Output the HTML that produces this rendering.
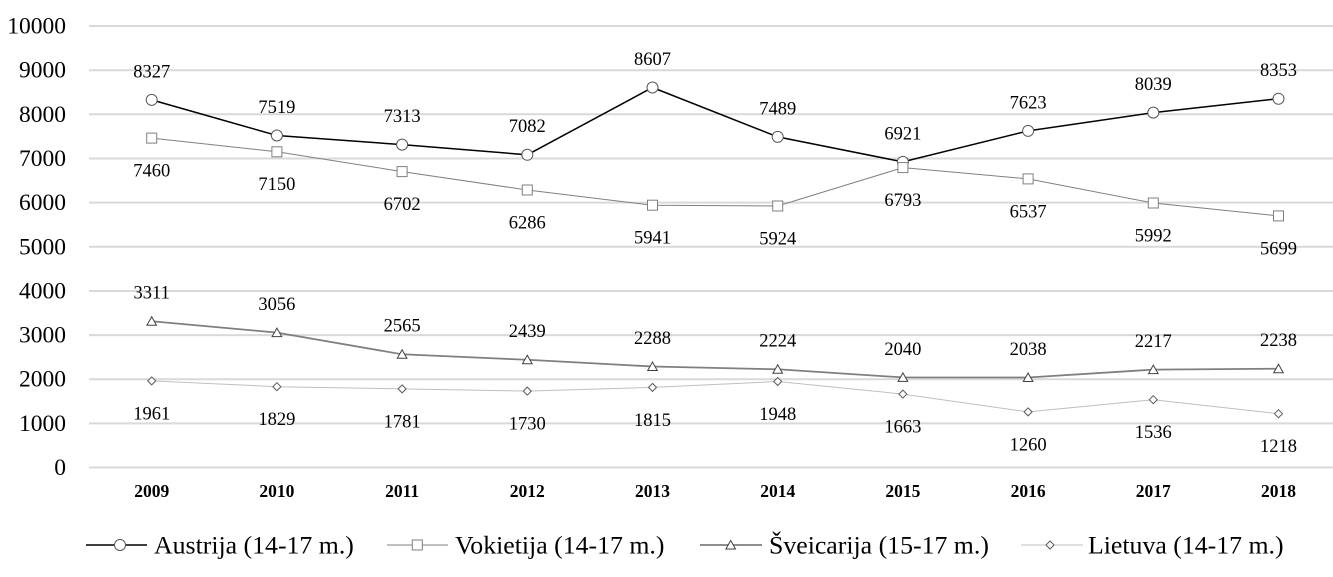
<!DOCTYPE html>
<html><head><meta charset="utf-8"><style>
html,body{margin:0;padding:0;background:#fff;}
svg{display:block;}
text{font-family:"Liberation Serif",serif;fill:#000;}
</style></head><body>
<svg width="1333" height="577" viewBox="0 0 1333 577" xmlns="http://www.w3.org/2000/svg">
<g stroke="#d9d9d9" stroke-width="2">
<line x1="89" y1="26" x2="1333" y2="26"/>
<line x1="89" y1="70.2" x2="1333" y2="70.2"/>
<line x1="89" y1="114.3" x2="1333" y2="114.3"/>
<line x1="89" y1="158.5" x2="1333" y2="158.5"/>
<line x1="89" y1="202.6" x2="1333" y2="202.6"/>
<line x1="89" y1="246.8" x2="1333" y2="246.8"/>
<line x1="89" y1="291" x2="1333" y2="291"/>
<line x1="89" y1="335.1" x2="1333" y2="335.1"/>
<line x1="89" y1="379.2" x2="1333" y2="379.2"/>
<line x1="89" y1="423.4" x2="1333" y2="423.4"/>
<line x1="89" y1="467.5" x2="1333" y2="467.5"/>
</g>
<g font-size="23.5" text-anchor="end">
<text x="66" y="33.5">10000</text>
<text x="66" y="77.7">9000</text>
<text x="66" y="121.8">8000</text>
<text x="66" y="166">7000</text>
<text x="66" y="210.1">6000</text>
<text x="66" y="254.3">5000</text>
<text x="66" y="298.5">4000</text>
<text x="66" y="342.6">3000</text>
<text x="66" y="386.7">2000</text>
<text x="66" y="430.9">1000</text>
<text x="66" y="475">0</text>
</g>
<g font-size="17.5" font-weight="bold" text-anchor="middle">
<text x="151.7" y="497">2009</text>
<text x="276.9" y="497">2010</text>
<text x="402.1" y="497">2011</text>
<text x="527.3" y="497">2012</text>
<text x="652.5" y="497">2013</text>
<text x="777.7" y="497">2014</text>
<text x="902.9" y="497">2015</text>
<text x="1028.1" y="497">2016</text>
<text x="1153.3" y="497">2017</text>
<text x="1278.5" y="497">2018</text>
</g>
<!-- Austrija -->
<polyline fill="none" stroke="#000" stroke-width="1.5" points="151.7,99.9 276.9,135.5 402.1,144.6 527.3,154.8 652.5,87.5 777.7,136.9 902.9,161.9 1028.1,130.9 1153.3,112.6 1278.5,98.7"/>
<g fill="#fff" stroke="#595959" stroke-width="1">
<circle cx="151.7" cy="99.9" r="5.5"/><circle cx="276.9" cy="135.5" r="5.5"/><circle cx="402.1" cy="144.6" r="5.5"/><circle cx="527.3" cy="154.8" r="5.5"/><circle cx="652.5" cy="87.5" r="5.5"/><circle cx="777.7" cy="136.9" r="5.5"/><circle cx="902.9" cy="161.9" r="5.5"/><circle cx="1028.1" cy="130.9" r="5.5"/><circle cx="1153.3" cy="112.6" r="5.5"/><circle cx="1278.5" cy="98.7" r="5.5"/>
</g>
<!-- Vokietija -->
<polyline fill="none" stroke="#808080" stroke-width="1" points="151.7,138.1 276.9,151.8 402.1,171.6 527.3,190 652.5,205.2 777.7,206 902.9,167.6 1028.1,178.9 1153.3,203 1278.5,215.9"/>
<g fill="#fff" stroke="#7f7f7f" stroke-width="1">
<rect x="146.7" y="133.1" width="10" height="10"/><rect x="271.9" y="146.8" width="10" height="10"/><rect x="397.1" y="166.6" width="10" height="10"/><rect x="522.3" y="185" width="10" height="10"/><rect x="647.5" y="200.2" width="10" height="10"/><rect x="772.7" y="201" width="10" height="10"/><rect x="897.9" y="162.6" width="10" height="10"/><rect x="1023.1" y="173.9" width="10" height="10"/><rect x="1148.3" y="198" width="10" height="10"/><rect x="1273.5" y="210.9" width="10" height="10"/>
</g>
<!-- Sveicarija -->
<polyline fill="none" stroke="#7f7f7f" stroke-width="1.75" points="151.7,321.3 276.9,332.6 402.1,354.3 527.3,359.8 652.5,366.5 777.7,369.3 902.9,377.4 1028.1,377.5 1153.3,369.6 1278.5,368.7"/>
<g fill="#fff" stroke="#404040" stroke-width="1">
<polygon points="151.7,316.8 156.5,325.3 146.9,325.3"/>
<polygon points="276.9,328.1 281.7,336.6 272.1,336.6"/>
<polygon points="402.1,349.8 406.9,358.3 397.3,358.3"/>
<polygon points="527.3,355.3 532.1,363.8 522.5,363.8"/>
<polygon points="652.5,362 657.3,370.5 647.7,370.5"/>
<polygon points="777.7,364.8 782.5,373.3 772.9,373.3"/>
<polygon points="902.9,372.9 907.7,381.4 898.1,381.4"/>
<polygon points="1028.1,373 1032.9,381.5 1023.3,381.5"/>
<polygon points="1153.3,365.1 1158.1,373.6 1148.5,373.6"/>
<polygon points="1278.5,364.2 1283.3,372.7 1273.7,372.7"/>
</g>
<!-- Lietuva -->
<polyline fill="none" stroke="#bfbfbf" stroke-width="1" points="151.7,380.9 276.9,386.7 402.1,388.9 527.3,391.1 652.5,387.4 777.7,381.5 902.9,394.1 1028.1,411.9 1153.3,399.7 1278.5,413.7"/>
<g fill="#fff" stroke="#595959" stroke-width="1">
<polygon points="151.7,376.9 155.7,380.9 151.7,384.9 147.7,380.9"/>
<polygon points="276.9,382.7 280.9,386.7 276.9,390.7 272.9,386.7"/>
<polygon points="402.1,384.9 406.1,388.9 402.1,392.9 398.1,388.9"/>
<polygon points="527.3,387.1 531.3,391.1 527.3,395.1 523.3,391.1"/>
<polygon points="652.5,383.4 656.5,387.4 652.5,391.4 648.5,387.4"/>
<polygon points="777.7,377.5 781.7,381.5 777.7,385.5 773.7,381.5"/>
<polygon points="902.9,390.1 906.9,394.1 902.9,398.1 898.9,394.1"/>
<polygon points="1028.1,407.9 1032.1,411.9 1028.1,415.9 1024.1,411.9"/>
<polygon points="1153.3,395.7 1157.3,399.7 1153.3,403.7 1149.3,399.7"/>
<polygon points="1278.5,409.7 1282.5,413.7 1278.5,417.7 1274.5,413.7"/>
</g>
<!-- data labels -->
<g font-size="18.5" text-anchor="middle">
<text x="151.7" y="77.3">8327</text><text x="276.9" y="112.9">7519</text><text x="402.1" y="122">7313</text><text x="527.3" y="132.2">7082</text><text x="652.5" y="64.9">8607</text><text x="777.7" y="114.3">7489</text><text x="902.9" y="139.3">6921</text><text x="1028.1" y="108.3">7623</text><text x="1153.3" y="90">8039</text><text x="1278.5" y="76.1">8353</text>
<text x="151.7" y="176.5">7460</text><text x="276.9" y="190.2">7150</text><text x="402.1" y="210">6702</text><text x="527.3" y="228.4">6286</text><text x="652.5" y="243.6">5941</text><text x="777.7" y="244.4">5924</text><text x="902.9" y="206">6793</text><text x="1028.1" y="217.3">6537</text><text x="1153.3" y="241.4">5992</text><text x="1278.5" y="254.3">5699</text>
<text x="151.7" y="298.7">3311</text><text x="276.9" y="310">3056</text><text x="402.1" y="331.7">2565</text><text x="527.3" y="337.2">2439</text><text x="652.5" y="343.9">2288</text><text x="777.7" y="346.7">2224</text><text x="902.9" y="354.8">2040</text><text x="1028.1" y="354.9">2038</text><text x="1153.3" y="347">2217</text><text x="1278.5" y="346.1">2238</text>
<text x="151.7" y="419.3">1961</text><text x="276.9" y="425.1">1829</text><text x="402.1" y="427.3">1781</text><text x="527.3" y="429.5">1730</text><text x="652.5" y="425.8">1815</text><text x="777.7" y="419.9">1948</text><text x="902.9" y="432.5">1663</text><text x="1028.1" y="450.3">1260</text><text x="1153.3" y="438.1">1536</text><text x="1278.5" y="452.1">1218</text>
</g>
<!-- legend -->
<line x1="86" y1="545" x2="147" y2="545" stroke="#000" stroke-width="1.5"/>
<circle cx="120" cy="545" r="5.5" fill="#fff" stroke="#595959"/>
<text x="154" y="553.5" font-size="25.8">Austrija (14-17 m.)</text>
<line x1="387" y1="545" x2="448" y2="545" stroke="#808080" stroke-width="1"/>
<rect x="412.3" y="540" width="10" height="10" fill="#fff" stroke="#7f7f7f"/>
<text x="455" y="553.5" font-size="25.8">Vokietija (14-17 m.)</text>
<line x1="700" y1="545" x2="762" y2="545" stroke="#7f7f7f" stroke-width="1.75"/>
<polygon points="730.7,540.5 735.5,549 725.9,549" fill="#fff" stroke="#404040"/>
<text x="769" y="553.5" font-size="25.8">Šveicarija (15-17 m.)</text>
<line x1="1021" y1="545" x2="1083" y2="545" stroke="#bfbfbf" stroke-width="1"/>
<polygon points="1050,541 1054,545 1050,549 1046,545" fill="#fff" stroke="#595959"/>
<text x="1088" y="553.5" font-size="25.8">Lietuva (14-17 m.)</text>
</svg>
</body></html>
